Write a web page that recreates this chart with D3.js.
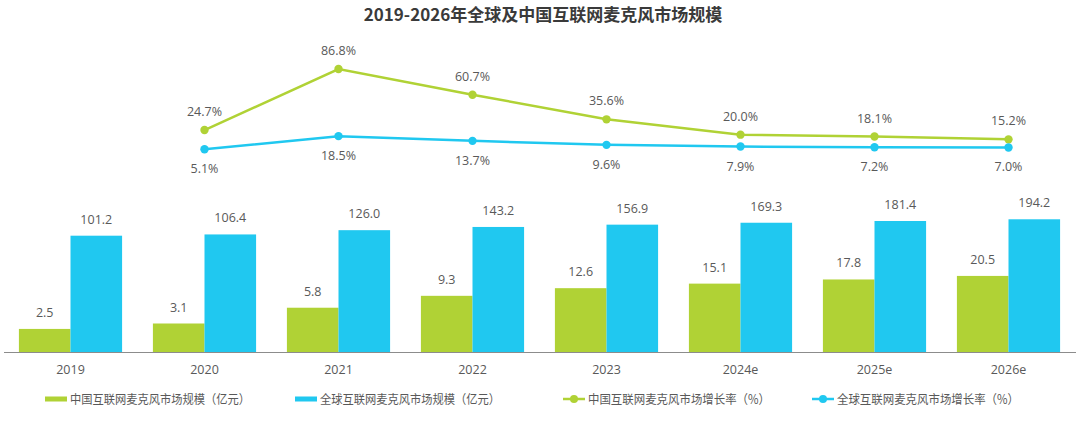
<!DOCTYPE html>
<html><head><meta charset="utf-8">
<script src="https://cdn.jsdelivr.net/npm/d3@7"></script>
<style>body{margin:0;background:#fff;} svg{display:block;font-family:"Noto Sans CJK SC","Open Sans",sans-serif;}</style>
</head><body>
<svg id="c" width="1080" height="422"></svg>
<script>
const categories = ["2019","2020","2021","2022","2023","2024e","2025e","2026e"];
const chinaSize = [2.5,3.1,5.8,9.3,12.6,15.1,17.8,20.5];
const globalSize = [101.2,106.4,126.0,143.2,156.9,169.3,181.4,194.2];
const rateCategories = ["2020","2021","2022","2023","2024e","2025e","2026e"];
const chinaRate = [24.7,86.8,60.7,35.6,20.0,18.1,15.2];
const globalRate = [5.1,18.5,13.7,9.6,7.9,7.2,7.0];
const seriesNames = ["中国互联网麦克风市场规模（亿元）","全球互联网麦克风市场规模（亿元）","中国互联网麦克风市场增长率（%）","全球互联网麦克风市场增长率（%）"];
const title = "2019-2026年全球及中国互联网麦克风市场规模";

const green = "#b0d235", blue = "#20c8f0", txt = "#595959";
const svg = d3.select("#c");

svg.append("text").attr("x",543).attr("y",21).attr("text-anchor","middle")
  .attr("font-size",17).attr("font-weight","bold").attr("fill","#3a3a3a").text(title);

const x = d3.scaleBand().domain(categories).range([3.5,1075.5]).paddingInner(0.23).paddingOuter(0.115);
const xs = d3.scaleBand().domain([0,1]).range([0,x.bandwidth()]);
const y = d3.scaleLog().domain([1,1000]).range([352,178]);

const g = svg.append("g");
categories.forEach((c,i)=>{
  [chinaSize[i],globalSize[i]].forEach((v,j)=>{
    g.append("rect").attr("x",x(c)+xs(j)).attr("width",xs.bandwidth())
      .attr("y",y(v)).attr("height",y(1)-y(v)).attr("fill",j?blue:green);
    g.append("text").attr("x",x(c)+xs(j)+xs.bandwidth()/2).attr("y",y(v)-12)
      .attr("text-anchor","middle").attr("font-size",12.5).attr("fill",txt)
      .attr("font-family","'Open Sans',sans-serif").text(v.toFixed(1));
  });
});

const xAxis = d3.axisBottom(x).tickSize(0).tickPadding(13);
const ax = svg.append("g").attr("transform","translate(0,352)").call(xAxis);
ax.select(".domain").attr("stroke","#8c8c8c").attr("stroke-width",1.2);
ax.selectAll("text").attr("font-size",12.5).attr("fill",txt).attr("font-family","'Open Sans',sans-serif");

const yr = d3.scaleLinear().domain([0,100]).range([154.3,56.1]);
const cx = c => x(c)+x.bandwidth()/2;
[[chinaRate,green,-1],[globalRate,blue,1]].forEach(([data,col,dir])=>{
  const line = d3.line().x((d,i)=>cx(rateCategories[i])).y(d=>yr(d));
  svg.append("path").datum(data).attr("d",line).attr("fill","none").attr("stroke",col).attr("stroke-width",2.5);
  data.forEach((d,i)=>{
    svg.append("circle").attr("cx",cx(rateCategories[i])).attr("cy",yr(d)).attr("r",4.2).attr("fill",col);
    svg.append("text").attr("x",cx(rateCategories[i])).attr("y",dir<0?yr(d)-14:yr(d)+24)
      .attr("text-anchor","middle").attr("font-size",12.5).attr("fill",txt)
      .attr("font-family","'Open Sans',sans-serif").text(d.toFixed(1)+"%");
  });
});

const legX = [45,295,563,812];
const legLen = [180,180,182,182];
const lg = svg.append("g");
seriesNames.forEach((n,i)=>{
  const col = i%2===0?green:blue;
  if(i<2){
    lg.append("rect").attr("x",legX[i]).attr("y",396.5).attr("width",22).attr("height",5).attr("fill",col);
  } else {
    lg.append("line").attr("x1",legX[i]).attr("x2",legX[i]+22).attr("y1",399).attr("y2",399).attr("stroke",col).attr("stroke-width",2.5);
    lg.append("circle").attr("cx",legX[i]+11).attr("cy",399).attr("r",4).attr("fill",col);
  }
  lg.append("text").attr("x",legX[i]+25).attr("y",403.5).attr("font-size",12.5).attr("fill",txt)
    .attr("textLength",legLen[i]).attr("lengthAdjust","spacingAndGlyphs").text(n);
});
</script>
</body></html>
